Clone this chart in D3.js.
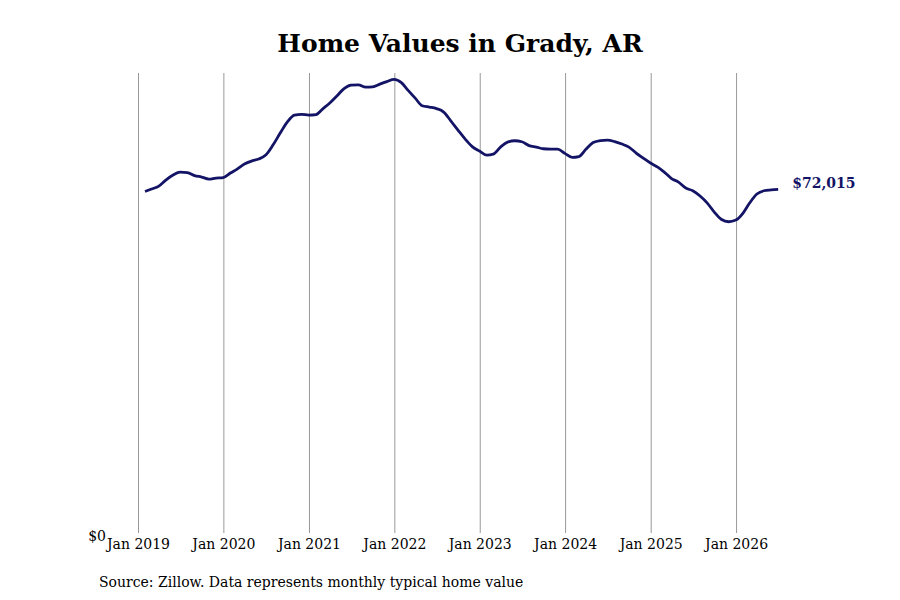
<!DOCTYPE html>
<html>
<head>
<meta charset="utf-8">
<script src="https://cdn.jsdelivr.net/npm/d3@7"></script>
<style>
  body { margin: 0; background: #fff; }
  svg text { font-family: "DejaVu Serif", serif; }
</style>
</head>
<body>
<div id="chart"></div>
<script>
// Monthly typical home value, Jan 2019 .. Jun 2026 (month-end)
const startYear = 2019;
const values = [
  71555, 72078, 72707, 73964, 75012, 75640, 75536, 74907, 74593, 74174, 74383, 74488,
  75431, 76269, 77317, 77945, 78364, 79202, 81298, 83812, 86117, 87584, 87730, 87584,
  87688, 88841, 90098, 91565, 93136, 93869, 93932, 93450, 93513, 94079, 94603, 95064,
  94393, 92822, 91146, 89532, 89260, 88945, 88212, 86326, 84441, 82555, 80983, 80040,
  79202, 79412, 80879, 81926, 82199, 81989, 81193, 80879, 80523, 80460, 80460, 79558,
  78720, 78888, 80460, 81821, 82241, 82345, 82031, 81507, 80879, 79621, 78574, 77526,
  76688, 75640, 74279, 73545, 72288, 71722, 70612, 69145, 67259, 65688, 65227, 65583,
  67050, 69145, 71031, 71722, 71900, 72015
];
const tickYears = [2019, 2020, 2021, 2022, 2023, 2024, 2025, 2026];
const yTicks = [0];
const title = 'Home Values in Grady, AR';
const source = 'Source: Zillow. Data represents monthly typical home value';

// month-end dates
const data = values.map((v, i) => ({
  date: new Date(startYear, i + 1, 0),
  value: v
}));

const width = 900, height = 600;
const margin = {top: 73, right: 90, bottom: 67, left: 138};

const svg = d3.select('#chart')
  .append('svg')
    .attr('width', width)
    .attr('height', height);

const x = d3.scaleTime()
  .domain([new Date(2019, 0, 1), new Date(2027, 0, 1)])
  .range([margin.left, margin.left + 8 * 85.43]);

const y = d3.scaleLinear()
  .domain([0, 96400])
  .range([height - margin.bottom, margin.top]);

// Title
svg.append('text')
  .attr('x', 460)
  .attr('y', 43)
  .attr('dy', '0.35em')
  .attr('text-anchor', 'middle')
  .style('font-size', '25px')
  .style('font-weight', 'bold')
  .style('fill', '#000')
  .text(title);

// Vertical gridlines + x labels
const xAxis = svg.append('g')
  .attr('transform', `translate(0,${height - margin.bottom})`)
  .call(d3.axisBottom(x)
    .tickValues(tickYears.map(yr => new Date(yr, 0, 1)))
    .tickSize(-(height - margin.bottom - margin.top))
    .tickPadding(6)
    .tickFormat(d3.timeFormat('Jan %Y')));
xAxis.select('.domain').remove();
xAxis.selectAll('line')
  .attr('stroke', '#999')
  .attr('stroke-width', 1);
xAxis.selectAll('text')
  .style('font-size', '14px')
  .style('font-family', '"DejaVu Serif", serif')
  .style('fill', '#000');

// Y axis: just the $0 label
const yAxis = svg.append('g')
  .attr('transform', `translate(106,3)`)
  .call(d3.axisLeft(y)
    .tickValues(yTicks)
    .tickSize(0)
    .tickPadding(0)
    .tickFormat(d => '$' + d3.format(',')(d)));
yAxis.select('.domain').remove();
yAxis.selectAll('text')
  .style('font-size', '14px')
  .style('font-family', '"DejaVu Serif", serif')
  .style('fill', '#000');

// Line
const line = d3.line()
  .x(d => x(d.date))
  .y(d => y(d.value))
  .curve(d3.curveMonotoneX);

svg.append('path')
  .datum(data)
  .attr('fill', 'none')
  .attr('stroke', '#141466')
  .attr('stroke-width', 2.8)
  .attr('d', line);

// End label
const last = data[data.length - 1];
svg.append('text')
  .attr('x', x(last.date) + 14)
  .attr('y', y(last.value) - 6)
  .attr('dy', '0.35em')
  .style('font-size', '14px')
  .style('font-weight', 'bold')
  .style('fill', '#141466')
  .text('$' + d3.format(',')(last.value));

// Source
svg.append('text')
  .attr('x', 99)
  .attr('y', 582)
  .attr('dy', '0.35em')
  .style('font-size', '14px')
  .style('fill', '#000')
  .text(source);
</script>
</body>
</html>
